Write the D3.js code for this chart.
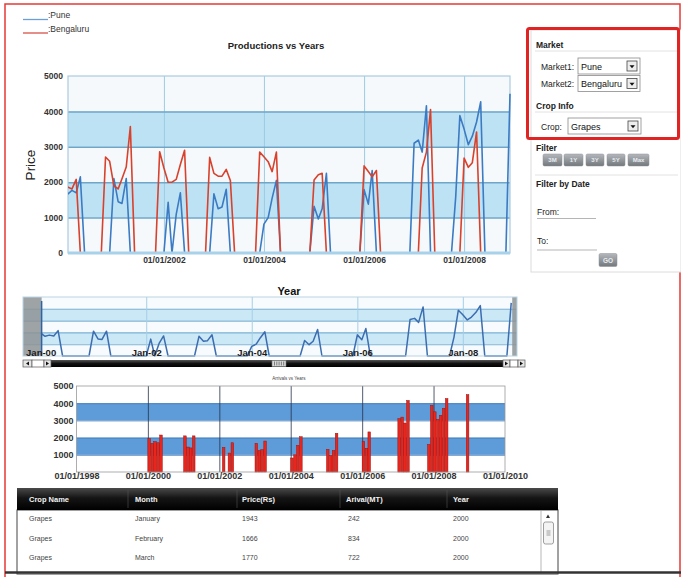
<!DOCTYPE html>
<html>
<head>
<meta charset="utf-8">
<title>Productions vs Years</title>
<script src="https://cdn.jsdelivr.net/npm/d3@7"></script>
<style>
  body { margin: 0; background: #fff; }
  svg { display: block; font-family: "Liberation Sans", Arial, sans-serif; }
</style>
</head>
<body>
<div id="container"></div>
<script>
// ---------------- data: monthly grape price (Rs), Jan 2000 .. Dec 2008 ----------------
const startMonth = new Date(2000, 0, 1);

const punePrice = [
  1943, 1666, 1770, 1700, 2150, 0, 0, 0, 0, 0, 0, 0,      // 2000
  2100, 1450, 1400, 2100, 0, 0, 0, 0, 0, 0, 0, 0,         // 2001
  0, 1430, 0, 1100, 1700, 0, 0, 0, 0, 0, 0, 0,            // 2002
  1670, 1250, 1300, 1800, 0, 0, 0, 0, 0, 0, 0, 0,         // 2003
  815, 1000, 1550, 2050, 0, 0, 0, 0, 0, 0, 0, 0,          // 2004
  1320, 960, 1250, 2250, 0, 0, 0, 0, 0, 0, 0, 0,          // 2005
  1790, 1380, 2330, 0, 0, 0, 0, 0, 0, 0, 0, 0,            // 2006
  3100, 3190, 2850, 4160, 0, 0, 0, 0, 0, 0, 1600, 3880,   // 2007
  3500, 3060, 3300, 3700, 4270, 0, 0, 0, 0, 0, 0, 4500    // 2008
];

const bengaluruPrice = [
  1900, 1860, 1810, 2080, 0, 0, 0, 0, 0, 0, 2710, 2590,   // 2000
  1900, 1810, 2100, 2430, 3570, 0, 0, 0, 0, 0, 0, 2860,   // 2001
  2400, 2000, 2000, 2080, 2500, 2900, 0, 0, 0, 0, 0, 2700,// 2002
  2250, 2170, 2170, 2360, 2050, 0, 0, 0, 0, 0, 0, 2850,   // 2003
  2720, 2580, 2300, 2850, 0, 0, 0, 0, 0, 0, 0, 0,         // 2004
  2060, 2210, 2250, 0, 0, 0, 0, 0, 0, 0, 0, 0,            // 2005
  2460, 2300, 2150, 2330, 0, 0, 0, 0, 0, 0, 0, 0,         // 2006
  0, 0, 2400, 2850, 4050, 0, 0, 0, 0, 0, 0, 0,            // 2007
  2680, 2420, 2550, 3420, 0, 0, 0, 0, 0, 0, 0, 0          // 2008
];

const marketNames = ["Pune", "Bengaluru"];
const priceTicks = [0, 1000, 2000, 3000, 4000, 5000];
const mainTickYears = [2002, 2004, 2006, 2008];
const navTickYears = [2000, 2002, 2004, 2006, 2008];
const barTickYears = [1998, 2000, 2002, 2004, 2006, 2008, 2010];
const filterButtons = ["3M", "1Y", "3Y", "5Y", "Max"];
const tableColumns = ["Crop Name", "Month", "Price(Rs)", "Arival(MT)", "Year"];
const tableRows = [
  ["Grapes", "January", "1943", "242", "2000"],
  ["Grapes", "February", "1666", "834", "2000"],
  ["Grapes", "March", "1770", "722", "2000"]
];

// ---------------- prep ----------------
const toSeries = arr => arr.map((v, i) => ({ date: d3.timeMonth.offset(startMonth, i), value: v }));
const pune = toSeries(punePrice);
const bengaluru = toSeries(bengaluruPrice);
const yearDate = y => new Date(y, 0, 1);
const plainNum = d3.format("d");
const FONT = "Liberation Sans, Arial, sans-serif";

// alternate bands 1000-2000, 3000-4000
function bandsFor(ticks) {
  const out = [];
  for (let i = 1; i + 1 < ticks.length; i += 2) out.push([ticks[i], ticks[i + 1]]);
  return out;
}

const svg = d3.select("#container").append("svg")
  .attr("width", 681)
  .attr("height", 577);

const defs = svg.append("defs");
const hdrGrad = defs.append("linearGradient").attr("id", "hdr").attr("x1", 0).attr("x2", 0).attr("y1", 0).attr("y2", 1);
hdrGrad.append("stop").attr("offset", "0%").attr("stop-color", "#4a4a4a");
hdrGrad.append("stop").attr("offset", "45%").attr("stop-color", "#151515");
hdrGrad.append("stop").attr("offset", "100%").attr("stop-color", "#000");
const btnGrad = defs.append("linearGradient").attr("id", "btn").attr("x1", 0).attr("x2", 0).attr("y1", 0).attr("y2", 1);
btnGrad.append("stop").attr("offset", "0%").attr("stop-color", "#b4b8bc");
btnGrad.append("stop").attr("offset", "100%").attr("stop-color", "#73787d");
const scrGrad = defs.append("linearGradient").attr("id", "scr").attr("x1", 0).attr("x2", 0).attr("y1", 0).attr("y2", 1);
scrGrad.append("stop").attr("offset", "0%").attr("stop-color", "#555");
scrGrad.append("stop").attr("offset", "50%").attr("stop-color", "#111");
scrGrad.append("stop").attr("offset", "100%").attr("stop-color", "#000");

// outer red frame
svg.append("rect")
  .attr("x", 5).attr("y", 4).attr("width", 675).attr("height", 620)
  .attr("fill", "none").attr("stroke", "#e53935").attr("stroke-width", 1.5);

//-----------------------------[legend]------------------------------//
const legendColors = ["#6d9fd6", "#d9534a"];
marketNames.forEach((name, i) => {
  const y = 19.5 + i * 13.5;
  svg.append("line").attr("x1", 23).attr("x2", 48).attr("y1", y).attr("y2", y)
    .attr("stroke", legendColors[i]).attr("stroke-width", 1.3);
  svg.append("text").attr("x", 48).attr("y", y - 1.5)
    .attr("font-size", 8.5).attr("fill", "#333").text(":" + name);
});

//-----------------------------[main chart]------------------------------//
const main = { left: 68, right: 510, top: 76, bottom: 253 };
const xMain = d3.scaleTime().domain([new Date(2000, 1, 1), new Date(2008, 11, 1)]).range([main.left, main.right]);
const yMain = d3.scaleLinear().domain([0, 5000]).range([main.bottom, main.top]);
const mainW = main.right - main.left, mainH = main.bottom - main.top;

svg.append("text").attr("x", 276).attr("y", 49).attr("text-anchor", "middle")
  .attr("font-size", 9.5).attr("font-weight", "bold").attr("fill", "#222")
  .text("Productions vs Years");

const gMain = svg.append("g");
gMain.append("rect").attr("x", main.left).attr("y", main.top).attr("width", mainW).attr("height", mainH)
  .attr("fill", "#f6f9fb");
gMain.selectAll(".band").data(bandsFor(priceTicks)).join("rect")
  .attr("x", main.left).attr("width", mainW)
  .attr("y", d => yMain(d[1])).attr("height", d => yMain(d[0]) - yMain(d[1]))
  .attr("fill", "#bde2f4");

gMain.append("g").attr("transform", `translate(0,${main.bottom})`)
  .call(d3.axisBottom(xMain).tickValues(mainTickYears.map(yearDate)).tickSize(-mainH).tickFormat(""))
  .call(g => g.select(".domain").remove())
  .selectAll("line").attr("stroke", "#9ccbe4");

gMain.append("g").attr("transform", `translate(${main.left},0)`)
  .call(d3.axisLeft(yMain).tickValues(priceTicks.slice(1, -1)).tickSize(-mainW).tickFormat(""))
  .call(g => g.select(".domain").remove())
  .selectAll("line").attr("stroke", "#6fa6c8").attr("stroke-width", 1.5);

gMain.append("rect").attr("x", main.left).attr("y", main.top).attr("width", mainW).attr("height", mainH)
  .attr("fill", "none").attr("stroke", "#a9cbe0").attr("stroke-width", 1.2);

defs.append("clipPath").attr("id", "clipMain").append("rect")
  .attr("x", main.left).attr("y", main.top - 2).attr("width", mainW + 1).attr("height", mainH + 4);

const lineMain = d3.line().x(d => xMain(d.date)).y(d => yMain(d.value));
const gLines = gMain.append("g").attr("clip-path", "url(#clipMain)");
gLines.append("path").datum(pune).attr("d", lineMain)
  .attr("fill", "none").attr("stroke", "#3b7bc4").attr("stroke-width", 1.6).attr("stroke-linejoin", "round");
gLines.append("path").datum(bengaluru).attr("d", lineMain)
  .attr("fill", "none").attr("stroke", "#d8412c").attr("stroke-width", 1.6).attr("stroke-linejoin", "round");

// bottom axis line sits above the zero-valued stretches
gMain.append("line").attr("x1", main.left).attr("x2", main.right).attr("y1", main.bottom).attr("y2", main.bottom)
  .attr("stroke", "#a8d2ea").attr("stroke-width", 3);

gMain.append("g").attr("transform", `translate(${main.left},0)`)
  .call(d3.axisLeft(yMain).tickValues(priceTicks).tickSize(0).tickPadding(5).tickFormat(plainNum))
  .call(g => g.select(".domain").remove())
  .selectAll("text").attr("font-size", 8.5).attr("font-weight", "bold").attr("fill", "#333")
  .attr("font-family", FONT);

gMain.append("g").attr("transform", `translate(0,${main.bottom})`)
  .call(d3.axisBottom(xMain).tickValues(mainTickYears.map(yearDate)).tickSize(0).tickPadding(4)
    .tickFormat(d3.timeFormat("%m/%d/%Y")))
  .call(g => g.select(".domain").remove())
  .selectAll("text").attr("font-size", 8.5).attr("font-weight", "bold").attr("fill", "#333")
  .attr("font-family", FONT);

svg.append("text").attr("transform", "translate(35,165) rotate(-90)").attr("text-anchor", "middle")
  .attr("font-size", 13.5).attr("fill", "#222").text("Price");

//-----------------------------[navigator]------------------------------//
const nav = { left: 23, right: 517, top: 297, bottom: 356 };
const xNav = d3.scaleTime().domain([new Date(1999, 8, 1), new Date(2009, 0, 10)]).range([nav.left, nav.right]);
const yNav = d3.scaleLinear().domain([0, 5000]).range([nav.bottom, nav.top]);
const navW = nav.right - nav.left, navH = nav.bottom - nav.top;

svg.append("text").attr("x", 289).attr("y", 295).attr("text-anchor", "middle")
  .attr("font-size", 11).attr("font-weight", "bold").attr("fill", "#111").text("Year");

const gNav = svg.append("g");
gNav.append("rect").attr("x", nav.left).attr("y", nav.top).attr("width", navW).attr("height", navH)
  .attr("fill", "#f8fbfd");
gNav.selectAll(".band").data(bandsFor(priceTicks)).join("rect")
  .attr("x", nav.left).attr("width", navW)
  .attr("y", d => yNav(d[1])).attr("height", d => yNav(d[0]) - yNav(d[1]))
  .attr("fill", "#cbe8f7");
gNav.append("g").attr("transform", `translate(${nav.left},0)`)
  .call(d3.axisLeft(yNav).tickValues(priceTicks.slice(1, -1)).tickSize(-navW).tickFormat(""))
  .call(g => g.select(".domain").remove())
  .selectAll("line").attr("stroke", "#7fb3d4").attr("stroke-width", 1.1);
gNav.append("g").attr("transform", `translate(0,${nav.bottom})`)
  .call(d3.axisBottom(xNav).tickValues(navTickYears.slice(1).map(yearDate)).tickSize(-navH).tickFormat(""))
  .call(g => g.select(".domain").remove())
  .selectAll("line").attr("stroke", "#a4cfe6");

const lineNav = d3.line().x(d => xNav(d.date)).y(d => yNav(d.value));
gNav.append("path").datum(pune).attr("d", lineNav)
  .attr("fill", "none").attr("stroke", "#3c6db0").attr("stroke-width", 1.5).attr("stroke-linejoin", "round");

// masks outside the selected range
const selStart = xNav(startMonth) + 1;
const selEnd = xNav(pune[pune.length - 1].date) + 1;
gNav.append("rect").attr("x", nav.left).attr("y", nav.top).attr("width", selStart - nav.left).attr("height", navH)
  .attr("fill", "#8e9397").attr("opacity", 0.85);
gNav.append("rect").attr("x", selEnd).attr("y", nav.top).attr("width", nav.right - selEnd).attr("height", navH)
  .attr("fill", "#8e9397").attr("opacity", 0.85);
gNav.append("line").attr("x1", selStart).attr("x2", selStart).attr("y1", nav.top + 4).attr("y2", nav.bottom)
  .attr("stroke", "#2f63a8").attr("stroke-width", 1.5);
gNav.append("rect").attr("x", nav.left).attr("y", nav.top).attr("width", navW).attr("height", navH)
  .attr("fill", "none").attr("stroke", "#b9d3e2");

gNav.append("g").attr("transform", `translate(0,${nav.bottom - 7})`)
  .call(d3.axisBottom(xNav).tickValues(navTickYears.map(yearDate)).tickSize(0).tickPadding(0)
    .tickFormat(d3.timeFormat("%b-%y")))
  .call(g => g.select(".domain").remove())
  .selectAll("text").attr("font-size", 9.5).attr("font-weight", "bold").attr("fill", "#1c1c1c")
  .attr("font-family", FONT);

// scrollbar
const scrY = 360, scrH = 7;
const gScr = svg.append("g");
gScr.append("rect").attr("x", 51).attr("y", scrY).attr("width", 452).attr("height", scrH).attr("fill", "url(#scr)");
[[23, 9, "l"], [32, 12, ""], [44, 7, "r"], [503, 7, "r"], [510, 8, ""], [518, 7, "r"]].forEach(([x, w, dir]) => {
  gScr.append("rect").attr("x", x).attr("y", scrY).attr("width", w).attr("height", scrH)
    .attr("fill", dir ? "#e6e6e6" : "#fff").attr("stroke", "#555").attr("stroke-width", 0.7);
  if (dir) {
    const cx = x + w / 2, cy = scrY + scrH / 2;
    const pts = dir === "l"
      ? [[cx + 1.5, cy - 2], [cx + 1.5, cy + 2], [cx - 1.5, cy]]
      : [[cx - 1.5, cy - 2], [cx - 1.5, cy + 2], [cx + 1.5, cy]];
    gScr.append("path").attr("d", d3.line()(pts) + "Z").attr("fill", "#111");
  }
});
gScr.append("rect").attr("x", 272).attr("y", scrY + 0.5).attr("width", 14).attr("height", scrH - 1)
  .attr("fill", "#d9d9d9").attr("stroke", "#777").attr("stroke-width", 0.6);
d3.range(5).forEach(i => {
  gScr.append("line").attr("x1", 274.5 + i * 2.3).attr("x2", 274.5 + i * 2.3)
    .attr("y1", scrY + 1.5).attr("y2", scrY + scrH - 1.5).attr("stroke", "#555").attr("stroke-width", 0.7);
});

//-----------------------------[bar chart]------------------------------//
const bar = { left: 76.5, right: 505, top: 386, bottom: 472 };
const xBar = d3.scaleTime().domain([yearDate(1998), yearDate(2010)]).range([bar.left, bar.right]);
const yBar = d3.scaleLinear().domain([0, 5000]).range([bar.bottom, bar.top]);
const barW = bar.right - bar.left, barH = bar.bottom - bar.top;

svg.append("text").attr("x", 289).attr("y", 380).attr("text-anchor", "middle")
  .attr("font-size", 4.5).attr("fill", "#444").text("Arrivals vs Years");

const gBar = svg.append("g");
gBar.append("rect").attr("x", bar.left).attr("y", bar.top).attr("width", barW).attr("height", barH).attr("fill", "#fff");
gBar.selectAll(".band").data(bandsFor(priceTicks)).join("rect")
  .attr("x", bar.left).attr("width", barW)
  .attr("y", d => yBar(d[1])).attr("height", d => yBar(d[0]) - yBar(d[1]))
  .attr("fill", "#5e9bd9");
gBar.append("g").attr("transform", `translate(${bar.left},0)`)
  .call(d3.axisLeft(yBar).tickValues(priceTicks.slice(1, -1)).tickSize(-barW).tickFormat(""))
  .call(g => g.select(".domain").remove())
  .selectAll("line").attr("stroke", "#3f78b5").attr("stroke-width", 0.8);
gBar.append("g").attr("transform", `translate(0,${bar.bottom})`)
  .call(d3.axisBottom(xBar).tickValues(barTickYears.slice(1, -1).map(yearDate)).tickSize(-barH).tickFormat(""))
  .call(g => g.select(".domain").remove())
  .selectAll("line").attr("stroke", "#26324a").attr("stroke-width", 0.8);

const monthW = xBar(new Date(2000, 1, 1)) - xBar(startMonth);
gBar.selectAll(".bar").data(pune.filter(d => d.value > 0)).join("rect")
  .attr("x", d => xBar(d.date)).attr("width", monthW * 0.85)
  .attr("y", d => yBar(d.value)).attr("height", d => bar.bottom - yBar(d.value))
  .attr("fill", "#e8261d").attr("stroke", "#9c1410").attr("stroke-width", 0.5);

gBar.append("rect").attr("x", bar.left).attr("y", bar.top).attr("width", barW).attr("height", barH)
  .attr("fill", "none").attr("stroke", "#9a9a9a").attr("stroke-width", 0.8);

gBar.append("g").attr("transform", `translate(${bar.left - 1},0)`)
  .call(d3.axisLeft(yBar).tickValues(priceTicks.slice(1)).tickSize(0).tickPadding(2).tickFormat(plainNum))
  .call(g => g.select(".domain").remove())
  .selectAll("text").attr("font-size", 9).attr("font-weight", "bold").attr("fill", "#333")
  .attr("font-family", FONT);
gBar.append("g").attr("transform", `translate(0,${bar.bottom})`)
  .call(d3.axisBottom(xBar).tickValues(barTickYears.map(yearDate)).tickSize(0).tickPadding(1)
    .tickFormat(d3.timeFormat("%m/%d/%Y")))
  .call(g => g.select(".domain").remove())
  .selectAll("text").attr("font-size", 9).attr("font-weight", "bold").attr("fill", "#333")
  .attr("font-family", FONT);

//-----------------------------[table]------------------------------//
const colX = [29, 135, 242, 346, 453];
const colDiv = [128, 237, 340, 447];
const gTab = svg.append("g");
gTab.append("rect").attr("x", 17).attr("y", 510).attr("width", 541).attr("height", 64)
  .attr("fill", "#fff").attr("stroke", "#444").attr("stroke-width", 1);
gTab.append("rect").attr("x", 17).attr("y", 488).attr("width", 541).attr("height", 22).attr("fill", "url(#hdr)");
colDiv.forEach(x => gTab.append("line").attr("x1", x).attr("x2", x).attr("y1", 490).attr("y2", 508)
  .attr("stroke", "#555").attr("stroke-width", 0.6));
gTab.selectAll(".th").data(tableColumns).join("text")
  .attr("x", (d, i) => colX[i]).attr("y", 502)
  .attr("font-size", 7.5).attr("font-weight", "bold").attr("fill", "#f2f2f2").text(d => d);
tableRows.forEach((row, r) => {
  gTab.selectAll(".r" + r).data(row).join("text")
    .attr("x", (d, i) => colX[i] + (i === 3 ? 2 : 0)).attr("y", 521 + r * 19.5)
    .attr("font-size", 7).attr("fill", "#444").text(d => d);
});
// table scrollbar
gTab.append("line").attr("x1", 541).attr("x2", 541).attr("y1", 510).attr("y2", 574).attr("stroke", "#999").attr("stroke-width", 0.7);
gTab.append("path").attr("d", "M546,518 L548,514.5 L550,518 Z").attr("fill", "#333");
gTab.append("rect").attr("x", 543.5).attr("y", 522).attr("width", 10).attr("height", 22).attr("rx", 2)
  .attr("fill", "#f4f4f4").attr("stroke", "#888").attr("stroke-width", 0.8);
d3.range(3).forEach(i => gTab.append("line").attr("x1", 546.5).attr("x2", 550.5)
  .attr("y1", 531 + i * 2).attr("y2", 531 + i * 2).attr("stroke", "#666").attr("stroke-width", 0.6));
svg.append("line").attr("x1", 5).attr("x2", 681).attr("y1", 572.5).attr("y2", 572.5)
  .attr("stroke", "#333").attr("stroke-width", 2.5);

//-----------------------------[side panel]------------------------------//
const gP = svg.append("g");
gP.append("rect").attr("x", 531).attr("y", 30).attr("width", 150).attr("height", 242)
  .attr("fill", "#fff").attr("stroke", "#dcdcdc");
[51, 112, 175].forEach(y => gP.append("line").attr("x1", 535).attr("x2", 678).attr("y1", y).attr("y2", y)
  .attr("stroke", "#e2e2e2"));

const bold = (x, y, t) => gP.append("text").attr("x", x).attr("y", y).attr("font-size", 8.5)
  .attr("font-weight", "bold").attr("fill", "#222").text(t);
const plain = (x, y, t, s) => gP.append("text").attr("x", x).attr("y", y).attr("font-size", s || 8.5)
  .attr("fill", "#222").text(t);

function selectBox(x, y, w, label) {
  gP.append("rect").attr("x", x).attr("y", y).attr("width", w).attr("height", 16)
    .attr("fill", "#fff").attr("stroke", "#8a8a8a").attr("stroke-width", 0.8);
  plain(x + 3, y + 11.5, label, 9).attr("fill", "#111");
  gP.append("rect").attr("x", x + w - 13).attr("y", y + 3).attr("width", 10).attr("height", 10)
    .attr("fill", "#eee").attr("stroke", "#444").attr("stroke-width", 0.8);
  const cx = x + w - 8, cy = y + 8.5;
  gP.append("path").attr("d", `M${cx - 2.5},${cy - 1.3} L${cx + 2.5},${cy - 1.3} L${cx},${cy + 1.7} Z`).attr("fill", "#111");
}

bold(536, 48, "Market");
plain(541, 69.5, "Market1:");
selectBox(578, 58, 62, marketNames[0]);
plain(541, 86.5, "Market2:");
selectBox(578, 75.5, 62, marketNames[1]);
bold(536, 109, "Crop Info");
plain(541, 129.5, "Crop:");
selectBox(568, 118, 73, "Grapes");

// red highlight box
svg.append("rect").attr("x", 527.5).attr("y", 28.5).attr("width", 151).attr("height", 110).attr("rx", 2)
  .attr("fill", "none").attr("stroke", "#e02424").attr("stroke-width", 3);

bold(536, 150.5, "Filter");
const btnX = [543, 564, 586, 607, 628], btnW = [19, 19, 18, 18, 21];
filterButtons.forEach((b, i) => {
  gP.append("rect").attr("x", btnX[i]).attr("y", 154).attr("width", btnW[i]).attr("height", 12).attr("rx", 1.5)
    .attr("fill", "url(#btn)").attr("stroke", "#8d9196").attr("stroke-width", 0.5);
  gP.append("text").attr("x", btnX[i] + btnW[i] / 2).attr("y", 162.3).attr("text-anchor", "middle")
    .attr("font-size", 6).attr("font-weight", "bold").attr("fill", "#e8ecf0").text(b);
});

bold(536, 187, "Filter by Date");
plain(537, 214.5, "From:");
gP.append("line").attr("x1", 537).attr("x2", 596).attr("y1", 218.5).attr("y2", 218.5).attr("stroke", "#b5b5b5");
plain(537, 243.5, "To:");
gP.append("line").attr("x1", 537).attr("x2", 597).attr("y1", 250).attr("y2", 250).attr("stroke", "#b5b5b5");
gP.append("rect").attr("x", 599).attr("y", 253.5).attr("width", 18).attr("height", 13).attr("rx", 1.5)
  .attr("fill", "url(#btn)").attr("stroke", "#8d9196").attr("stroke-width", 0.5);
gP.append("text").attr("x", 608).attr("y", 262.5).attr("text-anchor", "middle")
  .attr("font-size", 6.5).attr("font-weight", "bold").attr("fill", "#e8ecf0").text("GO");
</script>
</body>
</html>
